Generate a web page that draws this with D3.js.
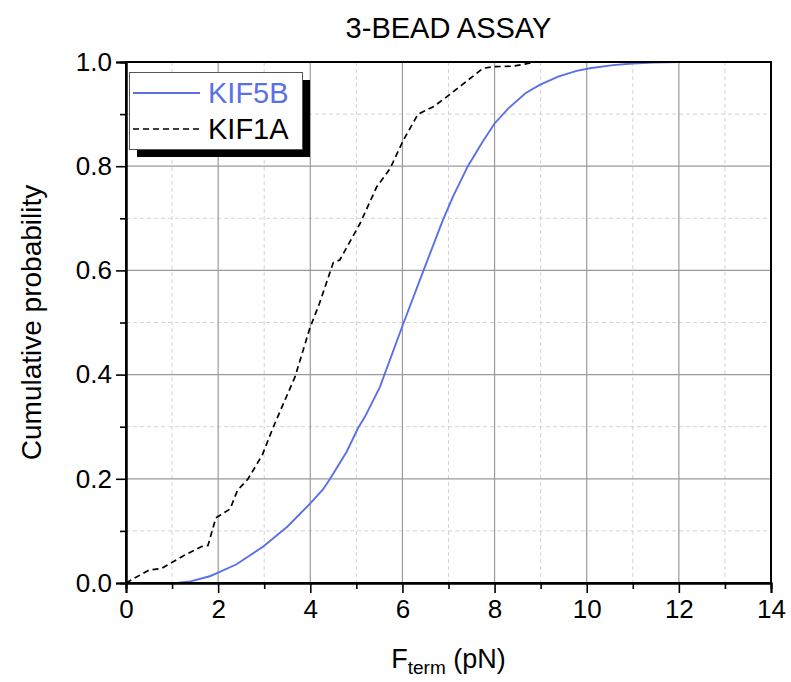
<!DOCTYPE html>
<html lang="en">
  <head>
    <meta charset="UTF-8" />
    <title>3-BEAD ASSAY</title>
    <style>
      body {
        margin: 0;
        background: #fff;
        font-family: "Liberation Sans", Arial, Helvetica, sans-serif;
      }
      svg {
        display: block;
      }
    </style>
  </head>
  <body>
    <script src="https://cdn.jsdelivr.net/npm/d3@7"></script>
    <script>
      // cumulative distributions: [force pN, probability]
      var kif5b = [
        [0, 0], [1.1, 0], [1.4, 0.003], [1.82, 0.013], [2.0, 0.02], [2.4, 0.036],
        [2.98, 0.07], [3.5, 0.108], [3.99, 0.152], [4.28, 0.18], [4.43, 0.2],
        [4.79, 0.252], [5.04, 0.298], [5.18, 0.318], [5.51, 0.376], [6.02, 0.498],
        [6.45, 0.598], [6.88, 0.697], [7.1, 0.742], [7.42, 0.8], [7.72, 0.844],
        [8.0, 0.882], [8.3, 0.911], [8.67, 0.94], [8.98, 0.956], [9.38, 0.972],
        [9.78, 0.983], [10.07, 0.988], [10.57, 0.994], [11.0, 0.997], [11.44, 0.999],
        [12.0, 1.0], [12.88, 1.0]
      ];
      var kif1a = [
        [0, 0], [0.5, 0.025], [0.77, 0.028], [1.24, 0.052], [1.64, 0.07], [1.78, 0.072],
        [1.95, 0.125], [2.26, 0.142], [2.42, 0.178], [2.65, 0.2], [2.96, 0.246],
        [3.2, 0.3], [3.67, 0.396], [3.99, 0.489], [4.2, 0.537], [4.5, 0.615],
        [4.64, 0.62], [5.08, 0.69], [5.44, 0.76], [5.73, 0.795], [6.02, 0.85],
        [6.34, 0.9], [6.67, 0.914], [6.96, 0.933], [7.32, 0.958], [7.75, 0.988],
        [7.97, 0.991], [8.4, 0.992], [8.9, 1.0]
      ];
      var xTicks = [0, 2, 4, 6, 8, 10, 12, 14];
      var xMinor = [1, 3, 5, 7, 9, 11, 13];
      var yTicks = [0, 0.2, 0.4, 0.6, 0.8, 1.0];
      var yMinor = [0.1, 0.3, 0.5, 0.7, 0.9];

      var W = 791, H = 682;
      var m = { left: 126, right: 771, top: 62, bottom: 583 };
      var blue = "#5b6fe8";

      var svg = d3.select("body").append("svg").attr("width", W).attr("height", H);

      var x = d3.scaleLinear().domain([0, 14]).range([m.left, m.right]);
      var y = d3.scaleLinear().domain([0, 1]).range([m.bottom, m.top]);

      // grid
      var grid = svg.append("g");
      grid.selectAll(".vmin").data(xMinor).enter().append("line")
        .attr("x1", x).attr("x2", x).attr("y1", m.top).attr("y2", m.bottom)
        .attr("stroke", "#d4d4d4").attr("stroke-dasharray", "4,3");
      grid.selectAll(".hmin").data(yMinor).enter().append("line")
        .attr("y1", y).attr("y2", y).attr("x1", m.left).attr("x2", m.right)
        .attr("stroke", "#d4d4d4").attr("stroke-dasharray", "4,3");
      grid.selectAll(".vmaj").data(xTicks.slice(1, -1)).enter().append("line")
        .attr("x1", x).attr("x2", x).attr("y1", m.top).attr("y2", m.bottom)
        .attr("stroke", "#9a9a9a").attr("stroke-width", 1.2);
      grid.selectAll(".hmaj").data(yTicks.slice(1, -1)).enter().append("line")
        .attr("y1", y).attr("y2", y).attr("x1", m.left).attr("x2", m.right)
        .attr("stroke", "#9a9a9a").attr("stroke-width", 1.2);

      // curves
      var line = d3.line().x(function(d) { return x(d[0]); }).y(function(d) { return y(d[1]); });
      svg.append("path").datum(kif5b).attr("d", line)
        .attr("fill", "none").attr("stroke", blue).attr("stroke-width", 1.9);
      svg.append("path").datum(kif1a).attr("d", line)
        .attr("fill", "none").attr("stroke", "#000").attr("stroke-width", 1.7)
        .attr("stroke-dasharray", "6,4");

      // frame
      svg.append("rect")
        .attr("x", m.left).attr("y", m.top)
        .attr("width", m.right - m.left).attr("height", m.bottom - m.top)
        .attr("fill", "none").attr("stroke", "#000").attr("stroke-width", 2);

      // axes
      svg.append("g").attr("transform", "translate(0," + m.bottom + ")")
        .call(d3.axisBottom(x).tickValues(xTicks).tickSize(10).tickPadding(7).tickFormat(d3.format("d")));
      svg.append("g").attr("transform", "translate(0," + m.bottom + ")")
        .call(d3.axisBottom(x).tickValues(xMinor).tickSize(6).tickFormat(""));
      svg.append("g").attr("transform", "translate(" + m.left + ",0)")
        .call(d3.axisLeft(y).tickValues(yTicks).tickSize(10).tickPadding(4).tickFormat(d3.format(".1f")));
      svg.append("g").attr("transform", "translate(" + m.left + ",0)")
        .call(d3.axisLeft(y).tickValues(yMinor).tickSize(6).tickFormat(""));

      svg.selectAll(".domain").attr("stroke", "#000").attr("stroke-width", 2);
      svg.selectAll(".tick line").attr("stroke", "#000").attr("stroke-width", 1.6);
      svg.selectAll(".tick text")
        .attr("font-family", "Liberation Sans, Arial, sans-serif")
        .attr("font-size", 26).attr("fill", "#000");

      // title and labels
      svg.append("text").attr("x", x(7)).attr("y", 38).attr("text-anchor", "middle")
        .attr("font-size", 29).text("3-BEAD ASSAY");

      svg.append("text")
        .attr("transform", "translate(41," + ((m.top + m.bottom) / 2) + ") rotate(-90)")
        .attr("text-anchor", "middle").attr("font-size", 28)
        .text("Cumulative probability");

      var xl = svg.append("text").attr("x", x(7)).attr("y", 668)
        .attr("text-anchor", "middle").attr("font-size", 27);
      xl.append("tspan").text("F");
      xl.append("tspan").attr("font-size", 19).attr("dy", 6).text("term");
      xl.append("tspan").attr("dy", -6).text(" (pN)");

      // legend
      var lg = svg.append("g");
      lg.append("rect").attr("x", 137).attr("y", 80).attr("width", 173).attr("height", 77)
        .attr("fill", "#000");
      lg.append("rect").attr("x", 129.5).attr("y", 72.5).attr("width", 173).attr("height", 77)
        .attr("fill", "#fff").attr("stroke", "#555").attr("stroke-width", 1);
      lg.append("line").attr("x1", 133).attr("x2", 200).attr("y1", 93).attr("y2", 93)
        .attr("stroke", blue).attr("stroke-width", 1.8);
      lg.append("line").attr("x1", 133).attr("x2", 200).attr("y1", 129).attr("y2", 129)
        .attr("stroke", "#000").attr("stroke-width", 1.6).attr("stroke-dasharray", "6,4");
      lg.append("text").attr("x", 208).attr("y", 103).attr("font-size", 29)
        .attr("fill", blue).text("KIF5B");
      lg.append("text").attr("x", 208).attr("y", 139).attr("font-size", 29)
        .attr("fill", "#000").text("KIF1A");
    </script>
  </body>
</html>
